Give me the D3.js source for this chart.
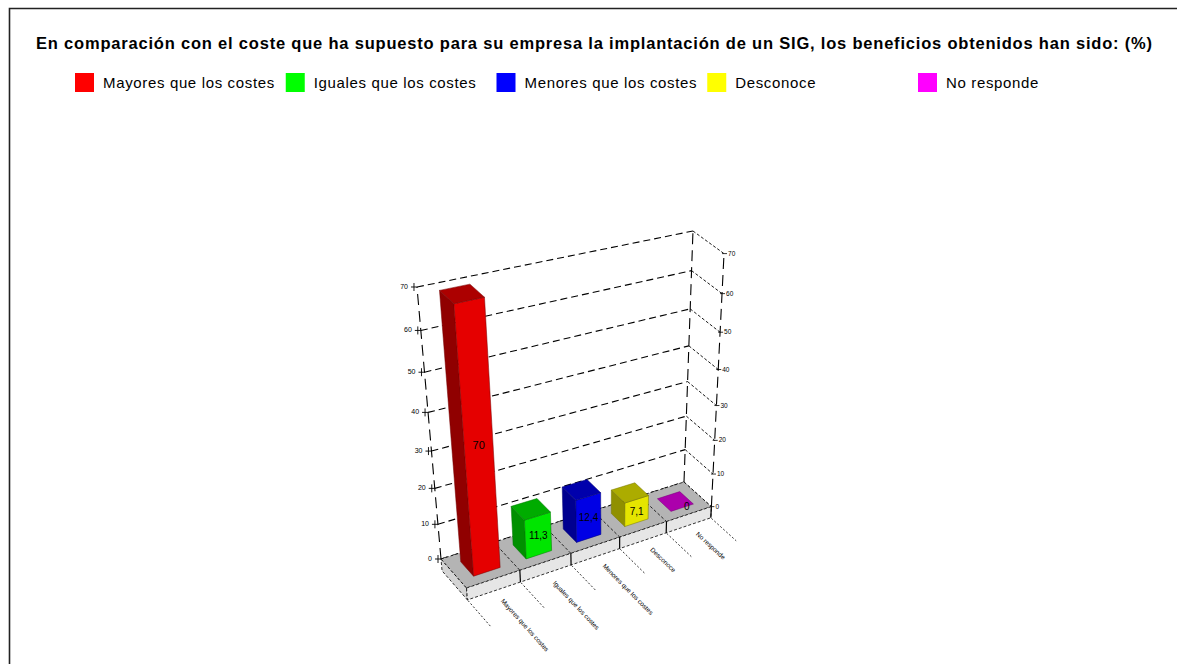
<!DOCTYPE html>
<html>
<head>
<meta charset="utf-8">
<script src="https://cdn.jsdelivr.net/npm/d3@7"></script>
<style>
  body { margin: 0; background: #fff; }
  svg { display: block; }
  text { font-family: Arial, "Liberation Sans", sans-serif; fill: #000; }
</style>
</head>
<body>
<svg id="chart" width="1177" height="664"></svg>
<script>
// ---- data ----
const title = "En comparación con el coste que ha supuesto para su empresa la implantación de un SIG, los beneficios obtenidos han sido: (%)";
const categories = ["Mayores que los costes", "Iguales que los costes", "Menores que los costes", "Desconoce", "No responde"];
const values = [70, 11.3, 12.4, 7.1, 0];
const colors = ["#ff0000", "#00ff00", "#0000ff", "#ffff00", "#ff00ff"];
const valueTicks = [0, 10, 20, 30, 40, 50, 60, 70];

// ---- setup ----
const width = 1177, height = 664;
const svg = d3.select("#chart");

const esLocale = d3.formatLocale({ decimal: ",", thousands: ".", grouping: [3], currency: ["", " €"] });
const fmt = esLocale.format(".3~g");

// world space: x = category axis [0,1], y = value axis [0,1], z = depth [0 back, 1 front]
const xBand = d3.scaleBand().domain(categories).range([0, 1]).paddingInner(0.5).paddingOuter(0.25);
const xSeg = d3.scaleLinear().domain([0, categories.length]).range([0, 1]);
const yScale = d3.scaleLinear().domain([0, 70]).range([0, 1]);
const barDepth = [0.25, 0.75];
const baseDepth = yScale(-3.5); // thickness of the floor slab

// perspective camera as a 3x4 homogeneous matrix
const camera = [
  [319.06, -75.4, 16.2, 441],
  [-23.4, -307.36, 17.24, 559],
  [0.1112, -0.1232, -0.02, 1]
];
function project([x, y, z]) {
  const r = camera.map(row => row[0] * x + row[1] * y + row[2] * z + row[3]);
  return [r[0] / r[2], r[1] / r[2]];
}
const poly = pts => d3.line()(pts.map(project)) + "Z";
const seg3 = (a, b) => d3.line()([project(a), project(b)]);

// ---- frame ----
svg.append("path")
  .attr("d", `M9.5,${height + 2}V8.5H${width + 2}`)
  .attr("fill", "none").attr("stroke", "#222").attr("stroke-width", 1.6);

// ---- title ----
svg.append("text")
  .attr("x", 36).attr("y", 49)
  .attr("font-size", 16.5).attr("font-weight", "bold")
  .attr("letter-spacing", 0.8)
  .text(title);

// ---- legend ----
const legendX = d3.scaleLinear().domain([0, categories.length - 1]).range([75, 918]);
const legend = svg.append("g").selectAll("g").data(categories).join("g")
  .attr("transform", (d, i) => `translate(${legendX(i)},73)`);
legend.append("rect").attr("width", 19).attr("height", 19).attr("fill", (d, i) => colors[i]);
legend.append("text").attr("x", 28).attr("y", 15).attr("font-size", 15).attr("letter-spacing", 0.65).text(d => d);

const plot = svg.append("g");

// ---- back wall grid ----
plot.append("g").selectAll("path").data(valueTicks).join("path")
  .attr("d", v => seg3([0, yScale(v), 0], [1, yScale(v), 0]))
  .attr("stroke", "#000").attr("stroke-width", 1.1).attr("stroke-dasharray", "7,4").attr("fill", "none");

// ---- right wall grid ----
plot.append("g").selectAll("path").data(valueTicks).join("path")
  .attr("d", v => seg3([1, yScale(v), 0], [1, yScale(v), 1]))
  .attr("stroke", "#000").attr("stroke-width", 0.9).attr("stroke-dasharray", "3,2").attr("fill", "none");

// wall edges
[[[0, 0, 0], [0, 1, 0]], [[1, 0, 0], [1, 1, 0]], [[1, 0, 1], [1, 1, 1]]].forEach(([a, b]) => {
  plot.append("path").attr("d", seg3(a, b))
    .attr("stroke", "#000").attr("stroke-width", 1.1).attr("stroke-dasharray", "11,6").attr("fill", "none");
});

// value axis ticks and labels (left)
const leftAxis = plot.append("g");
valueTicks.forEach(v => {
  const [px, py] = project([0, yScale(v), 0]);
  leftAxis.append("path").attr("d", `M${px - 6},${py}H${px}M${px - 3},${py - 4}V${py + 4}`)
    .attr("stroke", "#000").attr("stroke-width", 0.9);
  leftAxis.append("text").attr("x", px - 9).attr("y", py + 2)
    .attr("text-anchor", "end").attr("font-size", 7).text(v);
});
// value labels (right)
const rightAxis = plot.append("g");
valueTicks.forEach(v => {
  const [px, py] = project([1, yScale(v), 1]);
  rightAxis.append("path").attr("d", `M${px - 2},${py}H${px + 3}`).attr("stroke", "#000").attr("stroke-width", 0.8);
  rightAxis.append("text").attr("x", px + 4).attr("y", py + 2)
    .attr("font-size", 6.5).text(v);
});

// ---- floor slab ----
const slab = plot.append("g");
const t = baseDepth;
slab.append("path").attr("d", poly([[0, 0, 0], [0, 0, 1], [0, t, 1], [0, t, 0]]))
  .attr("fill", "#d4d4d4").attr("stroke", "#000").attr("stroke-width", 0.8).attr("stroke-dasharray", "3,2");
slab.append("path").attr("d", poly([[0, 0, 0], [1, 0, 0], [1, 0, 1], [0, 0, 1]]))
  .attr("fill", "#b4b4b4").attr("stroke", "#000").attr("stroke-width", 0.8).attr("stroke-dasharray", "3,2");
slab.append("path").attr("d", poly([[0, 0, 1], [1, 0, 1], [1, t, 1], [0, t, 1]]))
  .attr("fill", "#e6e6e6").attr("stroke", "#000").attr("stroke-width", 0.8).attr("stroke-dasharray", "3,2");
d3.range(1, categories.length + 1).forEach(k => {
  const x = xSeg(k);
  if (k < categories.length) {
    slab.append("path").attr("d", seg3([x, 0, 0], [x, 0, 1]))
      .attr("stroke", "#000").attr("stroke-width", 0.8).attr("stroke-dasharray", "3,2").attr("fill", "none");
  }
  slab.append("path").attr("d", seg3([x, 0, 1], [x, t, 1]))
    .attr("stroke", "#000").attr("stroke-width", 1.2).attr("fill", "none");
});

// category guide lines in front of the slab
d3.range(0, categories.length + 1).forEach(k => {
  const x = xSeg(k);
  plot.append("path").attr("d", seg3([x, t, 1.02], [x, t, 1.9]))
    .attr("stroke", "#000").attr("stroke-width", 0.8).attr("stroke-dasharray", "2,2").attr("fill", "none");
});

// category labels running along the depth direction
categories.forEach(c => {
  const cx = xBand(c) + xBand.bandwidth() / 2;
  const p0 = project([cx, t, 1.3]);
  const p1 = project([cx, t, 2.0]);
  const ang = Math.atan2(p1[1] - p0[1], p1[0] - p0[0]) * 180 / Math.PI;
  plot.append("text")
    .attr("transform", `translate(${p0[0]},${p0[1]}) rotate(${ang})`)
    .attr("font-size", 6.5).attr("dy", "0.35em").text(c);
});

// ---- bars (far to near) ----
const [z0, z1] = barDepth;
const bars = plot.append("g");
d3.range(categories.length).reverse().forEach(i => {
  const c = categories[i];
  const x0 = xBand(c), x1 = xBand(c) + xBand.bandwidth();
  const y1 = yScale(values[i]);
  const base = d3.color(colors[i]);
  const g = bars.append("g");
  const edge = base.darker(2.2);
  if (y1 > 0) {
    g.append("path").attr("d", poly([[x0, 0, z0], [x0, 0, z1], [x0, y1, z1], [x0, y1, z0]]))
      .attr("fill", base.darker(1.6)).attr("stroke", edge).attr("stroke-width", 0.5);
    g.append("path").attr("d", poly([[x0, 0, z1], [x1, 0, z1], [x1, y1, z1], [x0, y1, z1]]))
      .attr("fill", base.darker(0.3)).attr("stroke", edge).attr("stroke-width", 0.5);
  }
  g.append("path").attr("d", poly([[x0, y1, z0], [x1, y1, z0], [x1, y1, z1], [x0, y1, z1]]))
    .attr("fill", base.darker(1.1)).attr("stroke", edge).attr("stroke-width", 0.5);

  const lp = y1 > 0 ? project([(x0 + x1) / 2, y1 / 2, z1]) : project([(x0 + x1) / 2 + 0.02, 0, z1]);
  g.append("text").attr("x", lp[0]).attr("y", lp[1]).attr("dy", "0.35em")
    .attr("text-anchor", "middle").attr("font-size", i === 0 ? 11 : 10)
    .text(fmt(values[i]));
});
</script>
</body>
</html>
